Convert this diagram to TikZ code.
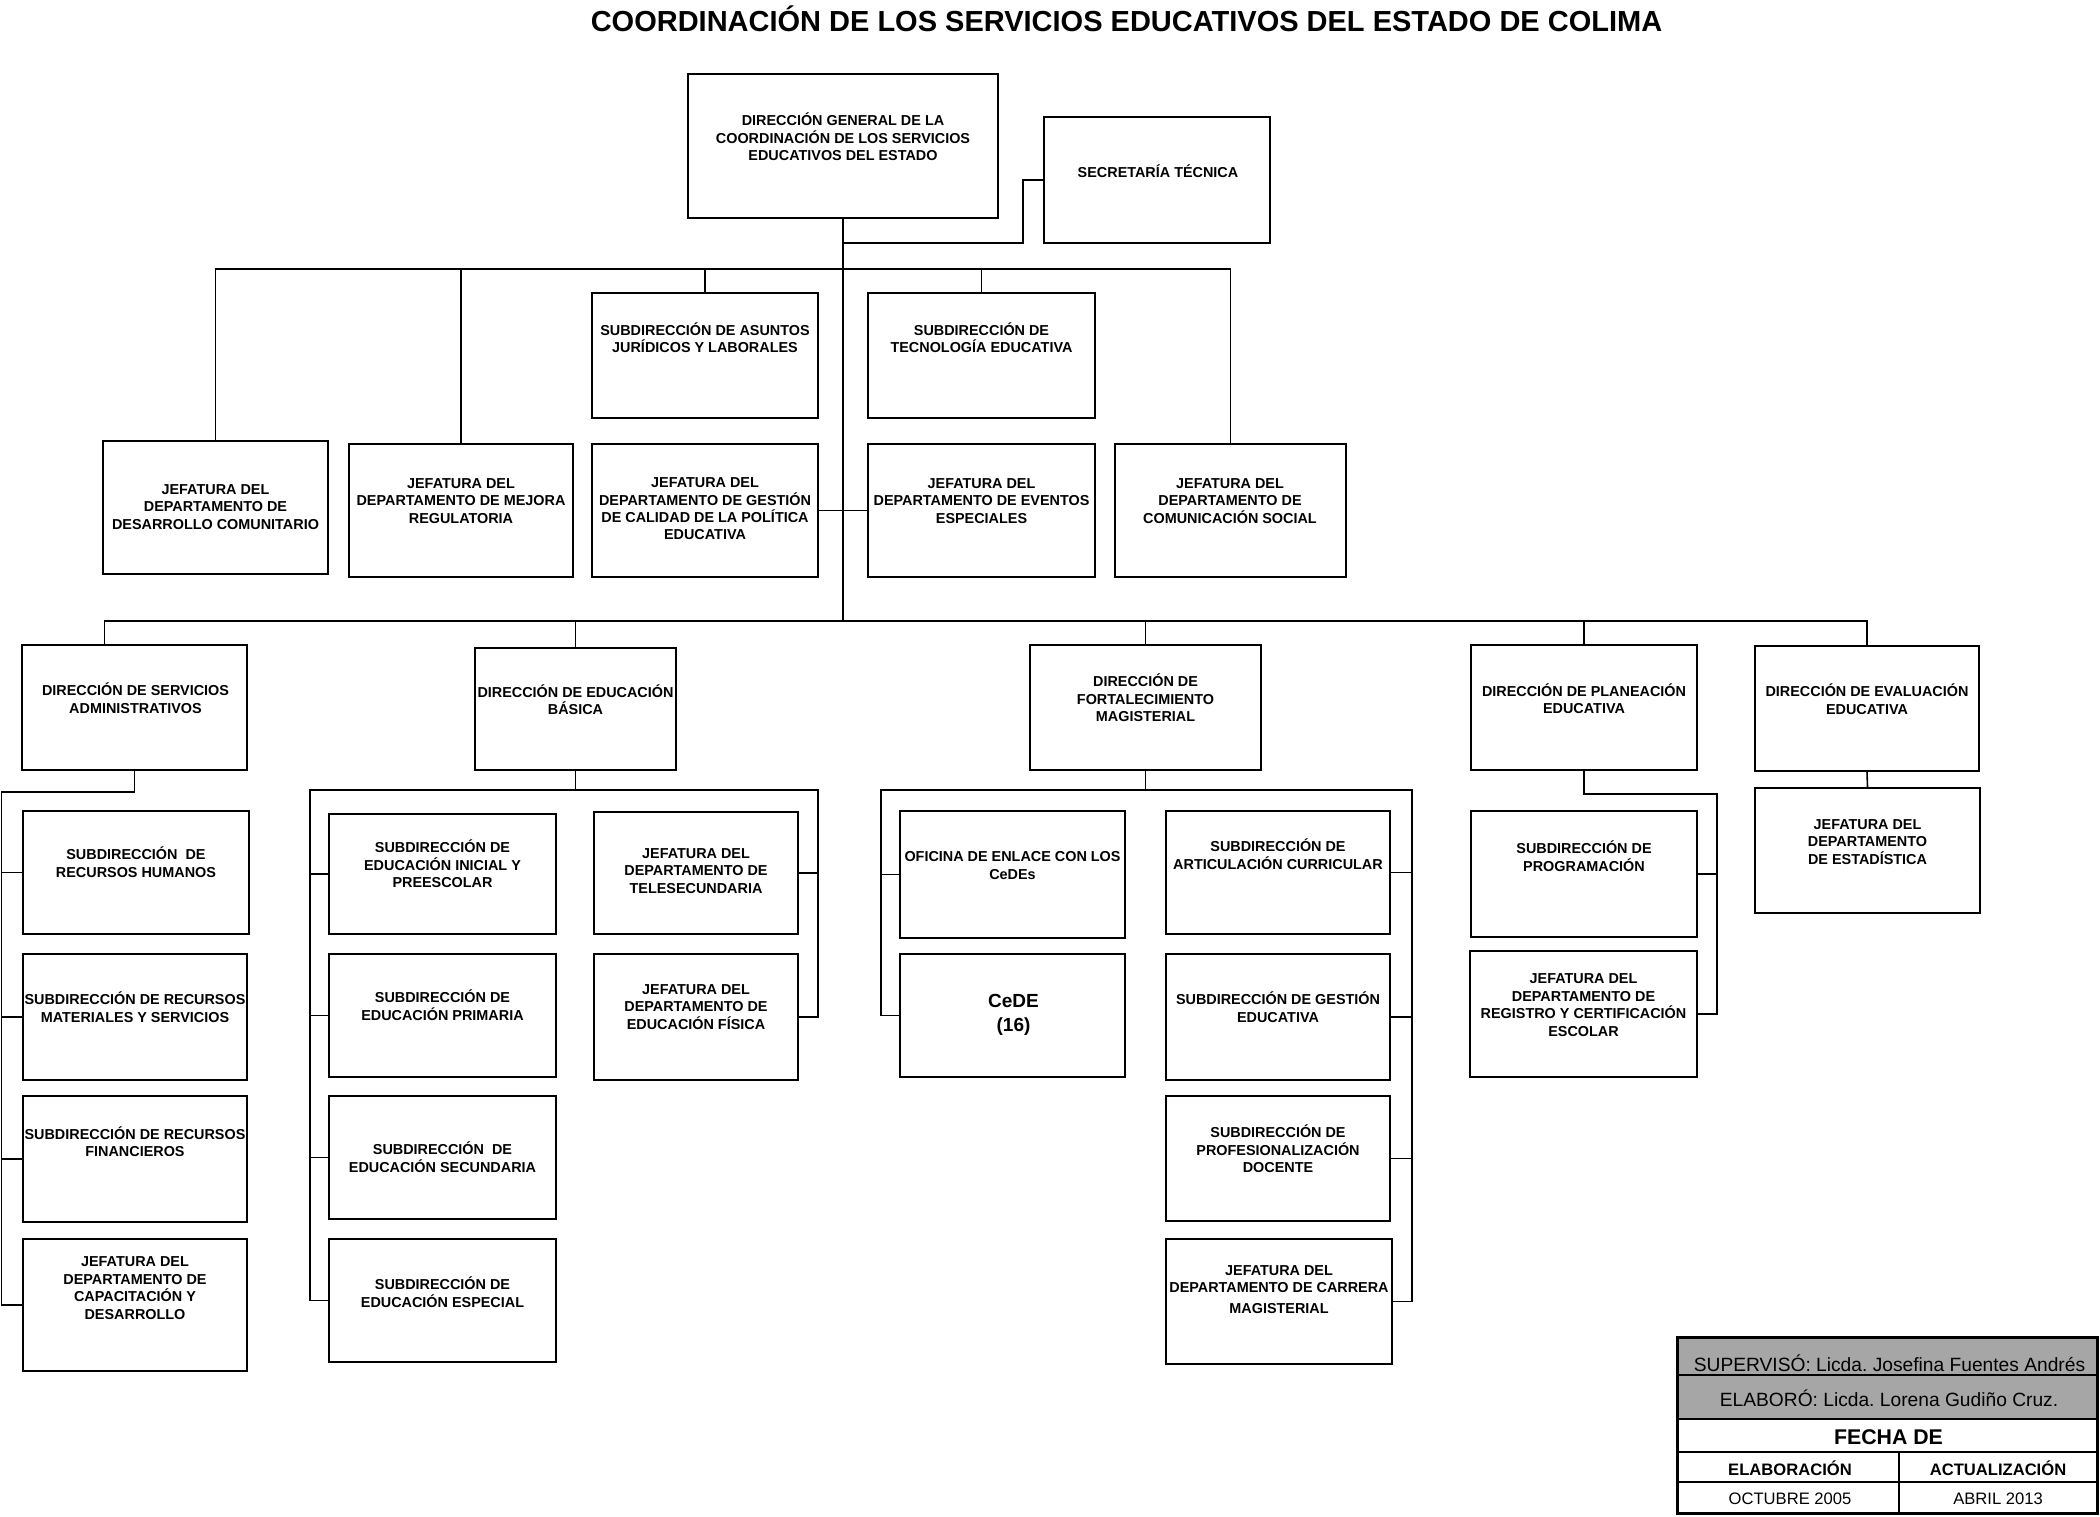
\documentclass[tikz,border=0pt]{standalone}
\usepackage{fontspec}
\setmainfont{Liberation Sans}
\definecolor{cellgray}{RGB}{166,166,166}
\frenchspacing
\begin{document}
\begin{tikzpicture}[x=1pt,y=-1pt,
  box/.style={draw, line width=1.6pt, inner sep=0pt, fill=white},
  txt/.style={align=center, inner sep=0pt, font=\bfseries\fontsize{14.4}{17.4}\selectfont},
  conn/.style={line width=1.6pt, line join=miter},
  cell/.style={draw, line width=1.6pt, inner sep=0pt},
  ctxt/.style={inner sep=0pt, anchor=base}
]
\useasboundingbox (0,0) rectangle (2100,1516);
\fill[white] (0,0) rectangle (2100,1516);

% Title
\node[ctxt, font=\bfseries\fontsize{29}{34}\selectfont] (title) at (1126.5,31) {COORDINACIÓN DE LOS SERVICIOS EDUCATIVOS DEL ESTADO DE COLIMA};

% ---- Top level
\node[box, minimum width=310pt, minimum height=144pt] (DG) at (843,146) {};
\node[txt] (DGt) at (843,137) {DIRECCIÓN GENERAL DE LA\\COORDINACIÓN DE LOS SERVICIOS\\EDUCATIVOS DEL ESTADO};
\node[box, minimum width=226pt, minimum height=126pt] (Sec) at (1157,180) {};
\node[txt] (Sect) at (1158,171) {SECRETARÍA TÉCNICA};

% ---- Row 2
\node[box, minimum width=226pt, minimum height=125pt] (SAJ) at (705,355.5) {};
\node[txt] (SAJt) at (705,337.5) {SUBDIRECCIÓN DE ASUNTOS\\JURÍDICOS Y LABORALES};
\node[box, minimum width=227pt, minimum height=125pt] (STE) at (981.5,355.5) {};
\node[txt] (STEt) at (981.5,337.5) {SUBDIRECCIÓN DE\\TECNOLOGÍA EDUCATIVA};

% ---- Row 3
\node[box, minimum width=225pt, minimum height=133pt] (JDC) at (215.5,507.5) {};
\node[txt] (JDCt) at (215.5,507) {JEFATURA DEL\\DEPARTAMENTO DE\\DESARROLLO COMUNITARIO};
\node[box, minimum width=224pt, minimum height=133pt] (JMR) at (461,510.5) {};
\node[txt] (JMRt) at (461,501) {JEFATURA DEL\\DEPARTAMENTO DE MEJORA\\REGULATORIA};
\node[box, minimum width=226pt, minimum height=133pt] (JGC) at (705,510.5) {};
\node[txt] (JGCt) at (705,509) {JEFATURA DEL\\DEPARTAMENTO DE GESTIÓN\\DE CALIDAD DE LA POLÍTICA\\EDUCATIVA};
\node[box, minimum width=227pt, minimum height=133pt] (JEE) at (981.5,510.5) {};
\node[txt] (JEEt) at (981.5,501) {JEFATURA DEL\\DEPARTAMENTO DE EVENTOS\\ESPECIALES};
\node[box, minimum width=231pt, minimum height=133pt] (JCS) at (1230.5,510.5) {};
\node[txt] (JCSt) at (1230,501) {JEFATURA DEL\\DEPARTAMENTO DE\\COMUNICACIÓN SOCIAL};

% ---- Row 4 (direcciones)
\node[box, minimum width=225pt, minimum height=125pt] (DSA) at (134.5,707.5) {};
\node[txt] (DSAt) at (135.5,698) {DIRECCIÓN DE SERVICIOS\\ADMINISTRATIVOS};
\node[box, minimum width=201pt, minimum height=122pt] (DEB) at (575.5,709) {};
\node[txt] (DEBt) at (575.5,699.5) {DIRECCIÓN DE EDUCACIÓN\\BÁSICA};
\node[box, minimum width=231pt, minimum height=125pt] (DFM) at (1145.5,707.5) {};
\node[txt] (DFMt) at (1145.5,698) {DIRECCIÓN DE\\FORTALECIMIENTO\\MAGISTERIAL};
\node[box, minimum width=226pt, minimum height=125pt] (DPE) at (1584,707.5) {};
\node[txt] (DPEt) at (1584,698.5) {DIRECCIÓN DE PLANEACIÓN\\EDUCATIVA};
\node[box, minimum width=224pt, minimum height=125pt] (DEE) at (1867,708.5) {};
\node[txt] (DEEt) at (1867,699) {DIRECCIÓN DE EVALUACIÓN\\EDUCATIVA};

% ---- Servicios Administrativos children
\node[box, minimum width=226pt, minimum height=123pt] (SRH) at (136,872.5) {};
\node[txt] (SRHt) at (136,862) {SUBDIRECCIÓN\ \ DE\\RECURSOS HUMANOS};
\node[box, minimum width=224pt, minimum height=126pt] (SRMS) at (135,1017) {};
\node[txt] (SRMSt) at (135,1007) {SUBDIRECCIÓN DE RECURSOS\\MATERIALES Y SERVICIOS};
\node[box, minimum width=224pt, minimum height=126pt] (SRF) at (135,1159) {};
\node[txt] (SRFt) at (135,1141.5) {SUBDIRECCIÓN DE RECURSOS\\FINANCIEROS};
\node[box, minimum width=224pt, minimum height=132pt] (JCD) at (135,1305) {};
\node[txt] (JCDt) at (135,1288) {JEFATURA DEL\\DEPARTAMENTO DE\\CAPACITACIÓN Y\\DESARROLLO};

% ---- Educación Básica children
\node[box, minimum width=227pt, minimum height=120pt] (SEIP) at (442.5,874) {};
\node[txt] (SEIPt) at (442.5,864) {SUBDIRECCIÓN DE\\EDUCACIÓN INICIAL Y\\PREESCOLAR};
\node[box, minimum width=227pt, minimum height=123pt] (SEP) at (442.5,1015.5) {};
\node[txt] (SEPt) at (442.5,1005) {SUBDIRECCIÓN DE\\EDUCACIÓN PRIMARIA};
\node[box, minimum width=227pt, minimum height=123pt] (SES) at (442.5,1157.5) {};
\node[txt] (SESt) at (442.5,1157) {SUBDIRECCIÓN\ \ DE\\EDUCACIÓN SECUNDARIA};
\node[box, minimum width=227pt, minimum height=123pt] (SEE) at (442.5,1300.5) {};
\node[txt] (SEEt) at (442.5,1292) {SUBDIRECCIÓN DE\\EDUCACIÓN ESPECIAL};
\node[box, minimum width=204pt, minimum height=122pt] (JTS) at (696,873) {};
\node[txt] (JTSt) at (696,871) {JEFATURA DEL\\DEPARTAMENTO DE\\TELESECUNDARIA};
\node[box, minimum width=204pt, minimum height=126pt] (JEF) at (696,1017) {};
\node[txt] (JEFt) at (696,1007) {JEFATURA DEL\\DEPARTAMENTO DE\\EDUCACIÓN FÍSICA};

% ---- Fortalecimiento Magisterial children
\node[box, minimum width=225pt, minimum height=127pt] (OEC) at (1012.5,874.5) {};
\node[txt] (OECt) at (1012.5,865.5) {OFICINA DE ENLACE CON LOS\\CeDEs};
\node[box, minimum width=225pt, minimum height=123pt] (CeDE) at (1012.5,1015.5) {};
\node[txt, font=\bfseries\fontsize{19}{24}\selectfont] (CeDEt) at (1013.5,1015) {CeDE\\(16)};
\node[box, minimum width=224pt, minimum height=123pt] (SAC) at (1278,872.5) {};
\node[txt] (SACt) at (1278,854) {SUBDIRECCIÓN DE\\ARTICULACIÓN CURRICULAR};
\node[box, minimum width=224pt, minimum height=126pt] (SGE) at (1278,1017) {};
\node[txt] (SGEt) at (1278,1007) {SUBDIRECCIÓN DE GESTIÓN\\EDUCATIVA};
\node[box, minimum width=224pt, minimum height=125pt] (SPD) at (1278,1158.5) {};
\node[txt] (SPDt) at (1278,1149) {SUBDIRECCIÓN DE\\PROFESIONALIZACIÓN\\DOCENTE};
\node[box, minimum width=226pt, minimum height=125pt] (JCM) at (1279,1301.5) {};
\node[txt] (JCMt) at (1279,1289.5) {JEFATURA DEL\\DEPARTAMENTO DE CARRERA\\[4pt]MAGISTERIAL};

% ---- Planeación children
\node[box, minimum width=226pt, minimum height=126pt] (SP) at (1584,874) {};
\node[txt] (SPt) at (1584,856) {SUBDIRECCIÓN DE\\PROGRAMACIÓN};
\node[box, minimum width=227pt, minimum height=126pt] (JRCE) at (1583.5,1014) {};
\node[txt] (JRCEt) at (1583.5,1005) {JEFATURA DEL\\DEPARTAMENTO DE\\REGISTRO Y CERTIFICACIÓN\\ESCOLAR};

% ---- Evaluación child
\node[box, minimum width=225pt, minimum height=125pt] (JE) at (1867.5,850.5) {};
\node[txt] (JEt) at (1867.5,842) {JEFATURA DEL\\DEPARTAMENTO\\DE ESTADÍSTICA};

% ---- Junction coordinates
\coordinate (t1) at (843,243);
\coordinate (b1) at (843,269);
\coordinate (b2) at (843,621);
\coordinate (sa) at (1.5,792);
\coordinate (ebL) at (310,790);
\coordinate (ebR) at (818,790);
\coordinate (fL) at (881,790);
\coordinate (fR) at (1412,790);
\coordinate (pR) at (1717,794);

% ---- Connectors
\draw[conn] (DG.south) -- (b2);
\draw[conn] (t1) -| ([xshift=-20pt]Sec.west) -- (Sec.west);
\draw[conn] (JDC.north) |- (b1) -| (JCS.north);
\draw[conn] (JMR.north) -- (JMR.north |- b1);
\draw[conn] (SAJ.north) -- (SAJ.north |- b1);
\draw[conn] (STE.north) -- (STE.north |- b1);
\draw[conn] (JGC.east) -- (JEE.west);

\draw[conn] ([xshift=-30pt]DSA.north) |- (b2) -| (DEE.north);
\draw[conn] (DEB.north) -- (DEB.north |- b2);
\draw[conn] (DFM.north) -- (DFM.north |- b2);
\draw[conn] (DPE.north) -- (DPE.north |- b2);

\draw[conn] (DSA.south) |- (sa) |- (JCD.west);
\draw[conn] (sa |- SRH.west) -- (SRH.west);
\draw[conn] (sa |- SRMS.west) -- (SRMS.west);
\draw[conn] (sa |- SRF.west) -- (SRF.west);

\draw[conn] (DEB.south) -- (DEB.south |- ebL);
\draw[conn] (SEE.west) -| (ebL) -- (ebR) |- (JEF.east);
\draw[conn] (ebL |- SEIP.west) -- (SEIP.west);
\draw[conn] (ebL |- SEP.west) -- (SEP.west);
\draw[conn] (ebL |- SES.west) -- (SES.west);
\draw[conn] (ebR |- JTS.east) -- (JTS.east);

\draw[conn] (DFM.south) -- (DFM.south |- fL);
\draw[conn] (CeDE.west) -| (fL) -- (fR) |- (JCM.east);
\draw[conn] (fL |- OEC.west) -- (OEC.west);
\draw[conn] (fR |- SAC.east) -- (SAC.east);
\draw[conn] (fR |- SGE.east) -- (SGE.east);
\draw[conn] (fR |- SPD.east) -- (SPD.east);

\draw[conn] (DPE.south) |- (pR) |- (JRCE.east);
\draw[conn] (pR |- SP.east) -- (SP.east);

\draw[conn] (DEE.south) -- (JE.north);

% ---- Legend table
\node[cell, fill=cellgray, minimum width=419pt, minimum height=37pt] (sup) at (1887.5,1356.5) {};
\node[cell, fill=cellgray, minimum width=419pt, minimum height=44pt] (ela) at (1887.5,1397) {};
\node[cell, minimum width=419pt, minimum height=33pt] (fec) at (1887.5,1435.5) {};
\node[cell, minimum width=221pt, minimum height=30pt] (elh) at (1788.5,1467) {};
\node[cell, minimum width=198pt, minimum height=30pt] (ach) at (1998,1467) {};
\node[cell, minimum width=221pt, minimum height=31pt] (elv) at (1788.5,1497.5) {};
\node[cell, minimum width=198pt, minimum height=31pt] (acv) at (1998,1497.5) {};
\draw[line width=3pt] (sup.north west) rectangle (acv.south east);

\node[ctxt, font=\fontsize{19.2}{23}\selectfont] (supt) at (1889.5,1371) {SUPERVISÓ: Licda. Josefina Fuentes Andrés};
\node[ctxt, font=\fontsize{19.2}{23}\selectfont] (elat) at (1889,1406) {ELABORÓ: Licda. Lorena Gudiño Cruz.};
\node[ctxt, font=\bfseries\fontsize{21.3}{25}\selectfont] (fect) at (1888.5,1444) {FECHA DE};
\node[ctxt, font=\bfseries\fontsize{16.6}{20}\selectfont] (elht) at (1790,1475) {ELABORACIÓN};
\node[ctxt, font=\bfseries\fontsize{16.6}{20}\selectfont] (acht) at (1998,1475) {ACTUALIZACIÓN};
\node[ctxt, font=\fontsize{16.6}{20}\selectfont] (elvt) at (1790,1504) {OCTUBRE 2005};
\node[ctxt, font=\fontsize{16.6}{20}\selectfont] (acvt) at (1998,1504) {ABRIL 2013};
\end{tikzpicture}
\end{document}
